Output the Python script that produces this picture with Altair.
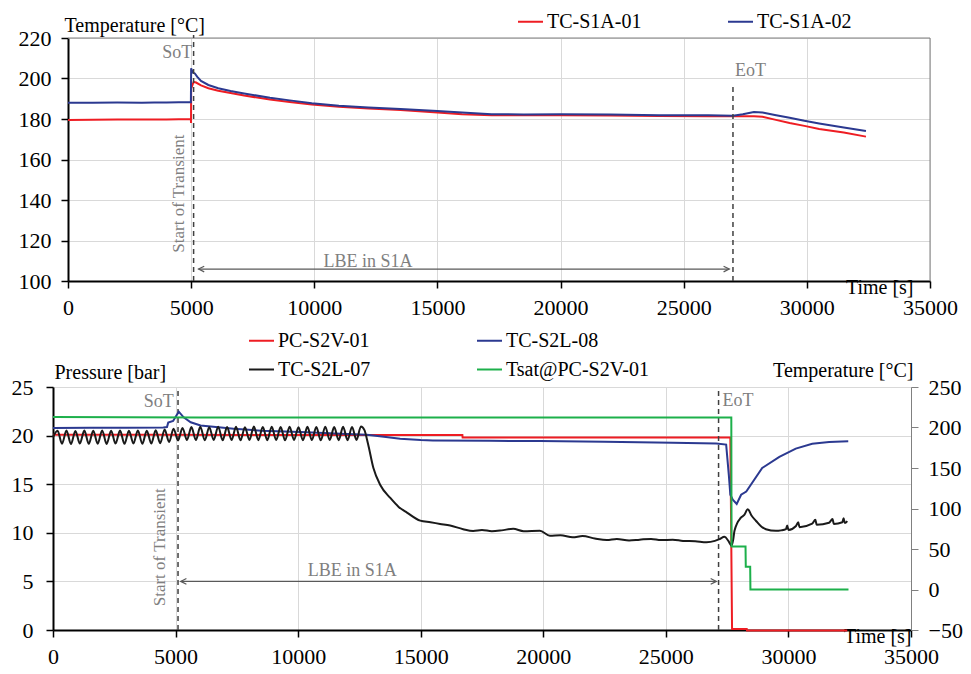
import altair as alt
import pandas as pd

FONT = "Liberation Serif"
GRAY_TXT = "#7f7f7f"
ARROW_C = "#595959"
DASH_C = "#404040"
FRAME_C = "#808080"

# ---------------- axis ticks ----------------
X_TICKS = [0, 5000, 10000, 15000, 20000, 25000, 30000, 35000]
TOP_Y_TICKS = [100, 120, 140, 160, 180, 200, 220]
P_TICKS = [0, 5, 10, 15, 20, 25]
TR_TICKS = [-50, 0, 50, 100, 150, 200, 250]

# ---------------- top panel data ----------------
TOP_SERIES = ["TC-S1A-01", "TC-S1A-02"]
TOP_COLORS = ["#ee1d23", "#2b3990"]

T1_RED = [0, 1000, 2000, 3000, 4000, 4500, 4990, 4995, 5000, 5100,
          5200, 5400, 5700, 6100, 6600, 7150, 8200, 9000, 9900, 11000,
          12200, 13500, 15000, 16000, 17200, 18500, 20000, 22000, 24000, 26000,
          27000, 27400, 27850, 28200, 28700, 29300, 29900, 30500, 31500, 32400]
V1_RED = [179.5, 179.6, 179.7, 179.7, 179.8, 179.9, 180.0, 178.0, 195.0, 198.3,
          198.0, 196.6, 195.2, 194.0, 192.8, 191.6, 189.6, 188.4, 187.2, 186.0,
          185.2, 184.4, 183.2, 182.4, 181.8, 181.8, 181.8, 181.7, 181.5, 181.4,
          181.4, 181.4, 181.3, 181.1, 179.7, 178.0, 176.6, 175.1, 173.3, 171.3]

T1_BLUE = [0, 1000, 2000, 3000, 3500, 4000, 4500, 4990, 5000, 5060,
           5150, 5250, 5400, 5700, 6100, 6600, 7150, 8200, 9000, 9900,
           11000, 12200, 13500, 15000, 16000, 17200, 18500, 20000, 22000, 24000,
           26000, 27000, 27400, 27850, 28200, 28700, 29300, 29900, 30500, 31500,
           32400]
V1_BLUE = [188.0, 188.0, 188.1, 188.0, 188.2, 188.2, 188.3, 188.3, 205.0, 203.0,
           202.5, 200.8, 198.8, 196.8, 195.2, 193.8, 192.6, 190.5, 189.2, 187.8,
           186.6, 185.7, 184.9, 184.0, 183.2, 182.4, 182.2, 182.3, 182.2, 181.9,
           181.8, 181.6, 182.3, 183.4, 183.2, 182.0, 180.6, 179.1, 177.8, 175.8,
           174.1]

# ---------------- bottom panel data ----------------
BOT_SERIES = ["PC-S2V-01", "TC-S2L-08", "TC-S2L-07", "Tsat@PC-S2V-01"]
BOT_COLORS = ["#ee1d23", "#2b3990", "#1a1a1a", "#1db04b"]

# pressure [bar]
P_T = [0, 4000, 8000, 12000, 16700, 16710, 27630, 27700, 28300, 28310, 32400]
P_V = [20.1, 20.1, 20.05, 20.05, 20.05, 19.8, 19.8, 0.1, 0.1, -0.05, -0.05]

# Tsat [°C]
G_T = [0, 6000, 27670, 27680, 28250, 28260, 28440, 28450, 32450]
G_V = [213.0, 212.3, 212.3, 53.0, 53.0, 28.0, 28.0, 0.0, 0.0]

# TC-S2L-08 [°C]
B_T = [0, 1500, 3000, 4500, 4650, 4700, 4900, 5130, 5330, 5617,
       6020, 7370, 8500, 10100, 11500, 12800, 13500, 14160, 15000, 15500,
       17800, 19860, 22500, 25280, 27060, 27460, 27570, 27630, 27730, 27890,
       28070, 28280, 28930, 29630, 30300, 30970, 31660, 32440]
B_V = [199.4, 199.6, 199.8, 200.0, 200.5, 206.0, 208.0, 219.5, 212.6, 206.5,
       202.4, 198.4, 196.0, 194.3, 192.5, 191.0, 188.5, 186.2, 184.5, 184.1,
       183.5, 183.3, 182.5, 181.3, 180.1, 178.9, 141.0, 117.0, 111.0, 105.7,
       117.0, 121.0, 150.0, 163.8, 174.0, 180.0, 182.0, 183.0]

# TC-S2L-07 [°C]
K_T = [0, 186, 368, 550, 732, 914, 1096, 1278, 1460, 1642,
       1824, 2006, 2188, 2370, 2552, 2734, 2916, 3098, 3280, 3462,
       3644, 3826, 4008, 4190, 4372, 4554, 4736, 4918, 5100, 5282,
       5464, 5646, 5828, 6010, 6192, 6374, 6556, 6738, 6920, 7102,
       7284, 7466, 7648, 7830, 8012, 8194, 8376, 8558, 8740, 8922,
       9104, 9286, 9468, 9650, 9832, 10014, 10196, 10378, 10560, 10742,
       10924, 11106, 11288, 11470, 11652, 11834, 12016, 12198, 12380, 12562,
       12700, 12850, 13070, 13350, 13760, 14100, 14440, 14980, 15400, 15790,
       16200, 16730, 17140, 17500, 17900, 18300, 18770, 19200, 19860, 20270,
       20700, 21200, 21600, 22100, 22590, 23000, 23500, 23930, 24400, 24800,
       25280, 25700, 26200, 26660, 27000, 27190, 27390, 27550, 27680, 27750,
       27800, 28060, 28200, 28340, 28500, 28680, 28880, 29080, 29490, 29700,
       29900, 29950, 30000, 30310, 30400, 30450, 30970, 31100, 31150, 31660,
       31800, 31850, 32200, 32250, 32300, 32400]
K_V = [188, 196, 180, 196.3, 179.6, 195.8, 180.2, 196.2, 179.8, 196,
       180, 196.4, 179.7, 195.9, 180.1, 196.2, 179.8, 196, 180.3, 196.3,
       179.9, 196.1, 180.2, 196.5, 180.5, 197.5, 182, 198.5, 184, 199.5,
       184.5, 200.5, 184.5, 200.8, 184.2, 200.3, 184.6, 201, 184.3, 200.5,
       184.5, 200.9, 184.2, 200.4, 184.6, 201.2, 184.4, 200.6, 184.3, 201,
       184.5, 200.5, 184.2, 200.9, 184.6, 200.4, 184.3, 200.8, 184.5, 200.6,
       184.2, 201, 184.5, 200.5, 184.4, 200.9, 184.3, 200.6, 184.6, 201.3,
       197, 180, 150, 129, 113, 102, 95, 85, 83, 81,
       79, 74.5, 72.3, 73.5, 72, 73, 75, 72, 72.5, 66.4,
       67, 64.5, 66, 63, 61, 62.5, 60.5, 61.5, 62.5, 61,
       61.5, 60, 59.5, 58.3, 60, 62.2, 65, 60, 54, 62,
       72.5, 88.6, 92, 99, 91, 84.6, 78, 74.4, 72.4, 73,
       74.5, 79, 73.5, 78.4, 83, 77, 81.3, 86, 80, 82.5,
       87, 81, 83, 88, 82, 84.5]

# ---------------- annotations ----------------
TOP_VLINE_T = [5100, 27000]
TOP_VLINE_Y0 = [100, 100]
TOP_VLINE_Y1 = [221.5, 197]
TOP_ARROW_T = [5300, 26850]
TOP_ARROW_Y = 105.9
TOP_TXT = ["SoT", "EoT", "LBE in S1A"]
TOP_TXT_T = [5050, 27080, 12180]
TOP_TXT_Y = [210.2, 201.0, 106.8]
TOP_TXT_ALIGN = ["right", "left", "center"]
TOP_ROT_T, TOP_ROT_Y = 4487, 114
TOP_FRAME_T = [0, 35000]
TOP_FRAME_Y = [100, 220]

BOT_VLINE_T = [5100, 27150]
BOT_VLINE_Y0 = [0, 0]
BOT_VLINE_Y1 = [25, 25]
BOT_ARROW_T = [5210, 27060]
BOT_ARROW_Y = 5.0
BOT_TXT = ["SoT", "EoT", "LBE in S1A"]
BOT_TXT_T = [4925, 27310, 12209]
BOT_TXT_Y = [22.9, 23.0, 5.6]
BOT_TXT_ALIGN = ["right", "left", "center"]
BOT_ROT_T, BOT_ROT_Y = 4375, 2.44

LEFT_HEAD = "M 1.2 -0.6 L 0 0 L 1.2 0.6"
RIGHT_HEAD = "M -1.2 -0.6 L 0 0 L -1.2 0.6"

# ---------------- frames ----------------
top_df = pd.concat([
    pd.DataFrame({"t": T1_RED, "v": V1_RED, "series": TOP_SERIES[0]}),
    pd.DataFrame({"t": T1_BLUE, "v": V1_BLUE, "series": TOP_SERIES[1]}),
])
p_df = pd.DataFrame({"t": P_T, "v": P_V, "series": BOT_SERIES[0]})
temp_df = pd.concat([
    pd.DataFrame({"t": B_T, "v": B_V, "series": BOT_SERIES[1]}),
    pd.DataFrame({"t": K_T, "v": K_V, "series": BOT_SERIES[2]}),
    pd.DataFrame({"t": G_T, "v": G_V, "series": BOT_SERIES[3]}),
])

SHIFT = 15                      # top plot starts 15 px right of the bottom one
W_TOP, W_BOT, H = 862, 858, 243

AX = dict(labelFont=FONT, labelFontSize=22, labelColor="black", labelOverlap=False,
          titleFont=FONT, titleFontSize=20, titleFontWeight="normal", titleColor="black",
          domainColor="black", domainWidth=2, tickColor="black", tickSize=7, tickWidth=1.5,
          gridColor="#d9d9d9", gridWidth=1)


def x_axis(title_x):
    return alt.Axis(values=X_TICKS, format="d", title="Time [s]",
                    titleX=title_x, titleY=12, titleAlign="right",
                    titleBaseline="alphabetic", labelPadding=9, labelFlush=False, **AX)


def annotations(vt, vy0, vy1, at, ay, txt, tt, ty, talign, rot_t, rot_y, ys):
    vl = pd.DataFrame({"t": vt, "y0": vy0, "y1": vy1})
    rules = alt.Chart(vl).mark_rule(color=DASH_C, strokeWidth=1.5, strokeDash=[5, 4]).encode(
        x="t:Q", y=alt.Y("y0:Q", scale=ys), y2="y1:Q")
    ar = pd.DataFrame({"t0": [at[0]], "t1": [at[1]], "y": [ay]})
    arrow = alt.Chart(ar).mark_rule(color=ARROW_C, strokeWidth=1.2).encode(
        x="t0:Q", x2="t1:Q", y=alt.Y("y:Q", scale=ys))
    lh = alt.Chart(pd.DataFrame({"t": [at[0]], "y": [ay]})).mark_point(
        shape=LEFT_HEAD, filled=False, stroke=ARROW_C, strokeWidth=1.2, size=90, opacity=1).encode(
        x="t:Q", y=alt.Y("y:Q", scale=ys))
    rh = alt.Chart(pd.DataFrame({"t": [at[1]], "y": [ay]})).mark_point(
        shape=RIGHT_HEAD, filled=False, stroke=ARROW_C, strokeWidth=1.2, size=90, opacity=1).encode(
        x="t:Q", y=alt.Y("y:Q", scale=ys))
    texts = []
    for s, x, y, a in zip(txt, tt, ty, talign):
        texts.append(alt.Chart(pd.DataFrame({"t": [x], "y": [y], "s": [s]})).mark_text(
            font=FONT, fontSize=18, color=GRAY_TXT, align=a, baseline="alphabetic").encode(
            x="t:Q", y=alt.Y("y:Q", scale=ys), text="s:N"))
    rot = alt.Chart(pd.DataFrame({"t": [rot_t], "y": [rot_y], "s": ["Start of Transient"]})).mark_text(
        font=FONT, fontSize=17, color=GRAY_TXT, align="left", baseline="middle", angle=270).encode(
        x="t:Q", y=alt.Y("y:Q", scale=ys), text="s:N")
    return [rules, arrow, lh, rh] + texts + [rot]


LEG = dict(title=None, orient="none", direction="horizontal", symbolType="stroke",
           symbolSize=625, symbolStrokeWidth=2, labelFont=FONT, labelFontSize=20,
           labelColor="black", labelOffset=3, padding=0, labelLimit=300)

# ---------------- top chart ----------------
top_x_scale = alt.Scale(domain=[0, 35000], nice=False, zero=False, range=[SHIFT, SHIFT + W_TOP])
top_y_scale = alt.Scale(domain=[100, 220], nice=False, zero=False)
top_lines = alt.Chart(top_df).mark_line(strokeWidth=2).encode(
    x=alt.X("t:Q", scale=top_x_scale, axis=x_axis(SHIFT + W_TOP - 17)),
    y=alt.Y("v:Q", scale=top_y_scale,
            axis=alt.Axis(values=TOP_Y_TICKS, title="Temperature [°C]", titleAngle=0,
                          titleX=-4, titleY=-7, titleAlign="left", titleBaseline="alphabetic",
                          labelPadding=10, offset=-SHIFT, **AX)),
    color=alt.Color("series:N", scale=alt.Scale(domain=TOP_SERIES, range=TOP_COLORS),
                    legend=alt.Legend(legendX=464, legendY=-30, columnPadding=82, **LEG)),
)
frame_df = pd.DataFrame({"t0": [TOP_FRAME_T[0], TOP_FRAME_T[1]], "t1": [TOP_FRAME_T[1], TOP_FRAME_T[1]],
                         "y0": [TOP_FRAME_Y[1], TOP_FRAME_Y[0]], "y1": [TOP_FRAME_Y[1], TOP_FRAME_Y[1]]})
top_frame = alt.Chart(frame_df).mark_rule(color=FRAME_C, strokeWidth=1).encode(
    x="t0:Q", x2="t1:Q", y=alt.Y("y0:Q", scale=top_y_scale), y2="y1:Q")

top = alt.layer(
    top_frame,
    top_lines,
    *annotations(TOP_VLINE_T, TOP_VLINE_Y0, TOP_VLINE_Y1, TOP_ARROW_T, TOP_ARROW_Y,
                 TOP_TXT, TOP_TXT_T, TOP_TXT_Y, TOP_TXT_ALIGN, TOP_ROT_T, TOP_ROT_Y, top_y_scale)
).properties(width=SHIFT + W_TOP, height=H,
             view=alt.ViewBackground(stroke="transparent", strokeWidth=0))

# ---------------- bottom chart ----------------
color_bot = alt.Color("series:N", scale=alt.Scale(domain=BOT_SERIES, range=BOT_COLORS),
                      legend=alt.Legend(legendX=195, legendY=-60, columns=2,
                                        columnPadding=102, rowPadding=5, **LEG))

x_bot_scale = alt.Scale(domain=[0, 35000], nice=False, zero=False)
p_scale = alt.Scale(domain=[0, 25], nice=False, zero=False)
p_line = alt.Chart(p_df).mark_line(strokeWidth=2).encode(
    x=alt.X("t:Q", scale=x_bot_scale, axis=x_axis(W_BOT)),
    y=alt.Y("v:Q", scale=p_scale,
            axis=alt.Axis(values=P_TICKS, orient="left", title="Pressure [bar]", titleAngle=0,
                          titleX=1, titleY=-9, titleAlign="left", titleBaseline="alphabetic",
                          labelPadding=13, minExtent=44, **AX)),
    color=color_bot,
)
p_layer = alt.layer(
    p_line,
    *annotations(BOT_VLINE_T, BOT_VLINE_Y0, BOT_VLINE_Y1, BOT_ARROW_T, BOT_ARROW_Y,
                 BOT_TXT, BOT_TXT_T, BOT_TXT_Y, BOT_TXT_ALIGN, BOT_ROT_T, BOT_ROT_Y, p_scale)
)

AX_R = dict(AX)
AX_R.update(domainColor=FRAME_C, domainWidth=1, tickColor=FRAME_C, tickWidth=1)
t_base = alt.Chart(temp_df).encode(
    x=alt.X("t:Q", scale=x_bot_scale),
    y=alt.Y("v:Q", scale=alt.Scale(domain=[-50, 250], nice=False, zero=False),
            axis=alt.Axis(values=TR_TICKS, orient="right", title="Temperature [°C]", titleAngle=0,
                          titleX=2, titleY=-11, titleAlign="right", titleBaseline="alphabetic",
                          labelPadding=10, grid=False, **AX_R)),
    color=color_bot,
)
t_layer = alt.layer(
    t_base.transform_filter(alt.datum.series == BOT_SERIES[1]).mark_line(strokeWidth=2),
    t_base.transform_filter(alt.datum.series == BOT_SERIES[2]).mark_line(strokeWidth=2, interpolate="monotone"),
    t_base.transform_filter(alt.datum.series == BOT_SERIES[3]).mark_line(strokeWidth=2),
)

bottom = alt.layer(p_layer, t_layer).resolve_scale(y="independent").properties(
    width=W_BOT, height=H)

chart = alt.ConcatChart(concat=[top, bottom], columns=1, spacing=8).resolve_scale(
    color="independent").resolve_legend(color="independent").properties(
    padding={"left": 0, "top": 0, "right": 0, "bottom": 0}
).configure_view(stroke=FRAME_C, strokeWidth=1).configure_axis(
    labelFont=FONT, titleFont=FONT).configure_legend(labelFont=FONT).configure_text(
    font=FONT).configure(background="white")

chart.save("out.html", embed_options={"renderer": "svg", "actions": False})
